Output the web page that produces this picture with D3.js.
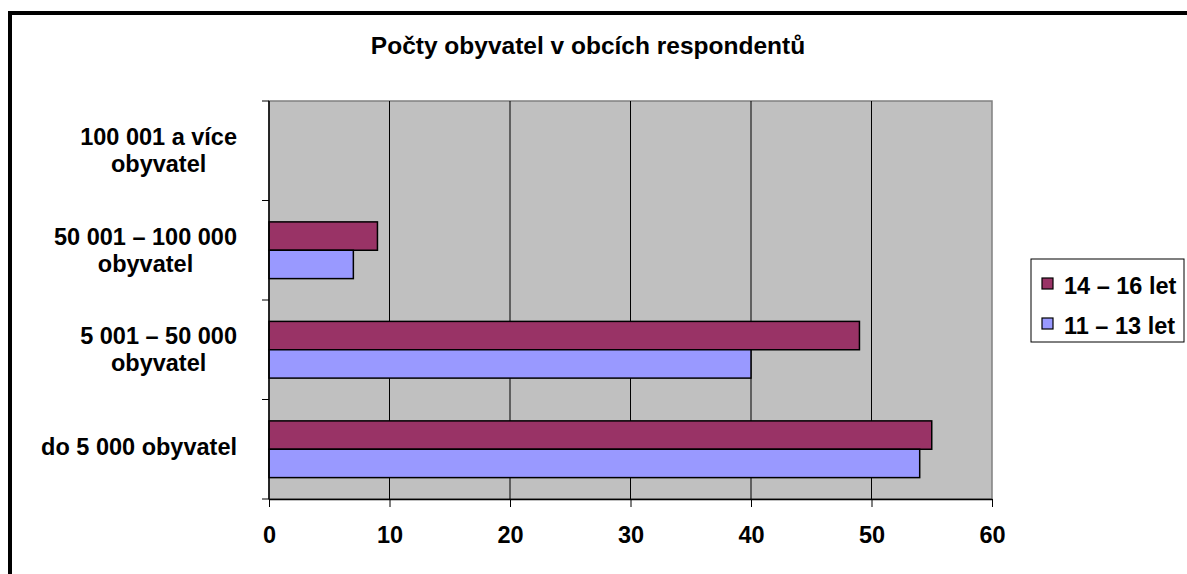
<!DOCTYPE html>
<html>
<head>
<meta charset="utf-8">
<script src="https://cdn.jsdelivr.net/npm/d3@7"></script>
<style>
body { margin: 0; background: #fff; }
text { font-family: "Liberation Sans", Arial, sans-serif; font-weight: bold; fill: #000; }
</style>
</head>
<body>
<div id="chart"></div>
<script>
// data
var categories = [
    ["100 001 a více", "obyvatel"],
    ["50 001 \u2013 100 000", "obyvatel"],
    ["5 001 \u2013 50 000", "obyvatel"],
    ["do 5 000 obyvatel"]
];
var seriesNames = ["14 \u2013 16 let", "11 \u2013 13 let"];
var seriesColors = ["#993366", "#9999FF"];
var older = [0, 9, 49, 55];   // 14 - 16 let
var younger = [0, 7, 40, 54]; // 11 - 13 let
var xTicks = [0, 10, 20, 30, 40, 50, 60];
var title = "Počty obyvatel v obcích respondentů";

var width = 1187, height = 574;
var plot = {left: 269, top: 101, right: 992, bottom: 499};
var fontSize = "23.5px";

var svg = d3.select("#chart").append("svg")
    .attr("width", width)
    .attr("height", height);

// outer frame, runs off the right and bottom edge
svg.append("rect")
    .attr("x", 10).attr("y", 13)
    .attr("width", 1300).attr("height", 700)
    .attr("fill", "#fff")
    .attr("stroke", "#000")
    .attr("stroke-width", 4);

svg.append("text")
    .attr("x", 588).attr("y", 54)
    .attr("text-anchor", "middle")
    .style("font-size", "24.5px")
    .text(title);

var x = d3.scaleLinear().domain([0, 60]).range([plot.left, plot.right]);
var y = d3.scaleBand()
    .domain(d3.range(categories.length))
    .range([plot.top, plot.bottom])
    .paddingInner(0.43)
    .paddingOuter(0.215);
var ySub = d3.scaleBand().domain([0, 1]).range([0, y.bandwidth()]);

svg.append("rect")
    .attr("x", plot.left).attr("y", plot.top)
    .attr("width", plot.right - plot.left)
    .attr("height", plot.bottom - plot.top)
    .attr("fill", "#C0C0C0")
    .attr("stroke", "#808080")
    .attr("stroke-width", 1.5);

// vertical gridlines
svg.append("g")
    .selectAll("line")
    .data(xTicks.slice(1, -1))
    .join("line")
    .attr("x1", d => x(d)).attr("x2", d => x(d))
    .attr("y1", plot.top).attr("y2", plot.bottom)
    .attr("stroke", "#000")
    .attr("stroke-width", 1);

var series = [older, younger];
series.forEach(function(vals, s) {
    svg.append("g")
        .selectAll("rect")
        .data(vals)
        .join("rect")
        .attr("x", x(0))
        .attr("y", (d, i) => y(i) + ySub(s))
        .attr("width", d => x(d) - x(0))
        .attr("height", ySub.bandwidth())
        .attr("fill", seriesColors[s])
        .attr("stroke", d => d > 0 ? "#000" : "none")
        .attr("stroke-width", 1.5);
});

// x axis
var xAxis = svg.append("g")
    .attr("transform", "translate(0," + plot.bottom + ")")
    .call(d3.axisBottom(x).tickValues(xTicks).tickSize(8).tickSizeOuter(0).tickPadding(19));
xAxis.select(".domain").attr("stroke", "#000").attr("stroke-width", 1.5);
xAxis.selectAll("line").attr("stroke", "#000");
xAxis.selectAll("text")
    .style("font-family", "'Liberation Sans', Arial, sans-serif")
    .style("font-weight", "bold")
    .style("font-size", fontSize);

// y axis line and ticks at band boundaries
svg.append("line")
    .attr("x1", plot.left).attr("x2", plot.left)
    .attr("y1", plot.top).attr("y2", plot.bottom)
    .attr("stroke", "#000").attr("stroke-width", 1.5);
svg.append("g")
    .selectAll("line")
    .data(d3.range(categories.length + 1))
    .join("line")
    .attr("x1", plot.left - 7).attr("x2", plot.left)
    .attr("y1", i => plot.top + i * y.step())
    .attr("y2", i => plot.top + i * y.step())
    .attr("stroke", "#000");

// category labels: block right aligned, lines centred in the block
var lineGap = 27;
var labelRight = 237;
categories.forEach(function(lines, i) {
    var cy = y(i) + y.bandwidth() / 2;
    var shift = lines.length > 1 ? 8 : 6;
    var t = svg.append("g").selectAll("text")
        .data(lines)
        .join("text")
        .attr("text-anchor", "middle")
        .style("font-size", fontSize)
        .attr("y", (d, k) => cy + shift + (k - (lines.length - 1) / 2) * lineGap)
        .text(d => d);
    var w = d3.max(t.nodes(), n => n.getComputedTextLength());
    t.attr("x", labelRight - w / 2);
});

// legend
var legend = svg.append("g");
legend.append("rect")
    .attr("x", 1031).attr("y", 259)
    .attr("width", 153).attr("height", 83)
    .attr("fill", "#fff")
    .attr("stroke", "#000")
    .attr("stroke-width", 1);
seriesNames.forEach(function(name, s) {
    var base = 294 + s * 40;
    legend.append("rect")
        .attr("x", 1042).attr("y", base - 16)
        .attr("width", 11).attr("height", 11)
        .attr("fill", seriesColors[s])
        .attr("stroke", "#000")
        .attr("stroke-width", 1.2);
    legend.append("text")
        .attr("x", 1064).attr("y", base)
        .style("font-size", fontSize)
        .text(name);
});
</script>
</body>
</html>
